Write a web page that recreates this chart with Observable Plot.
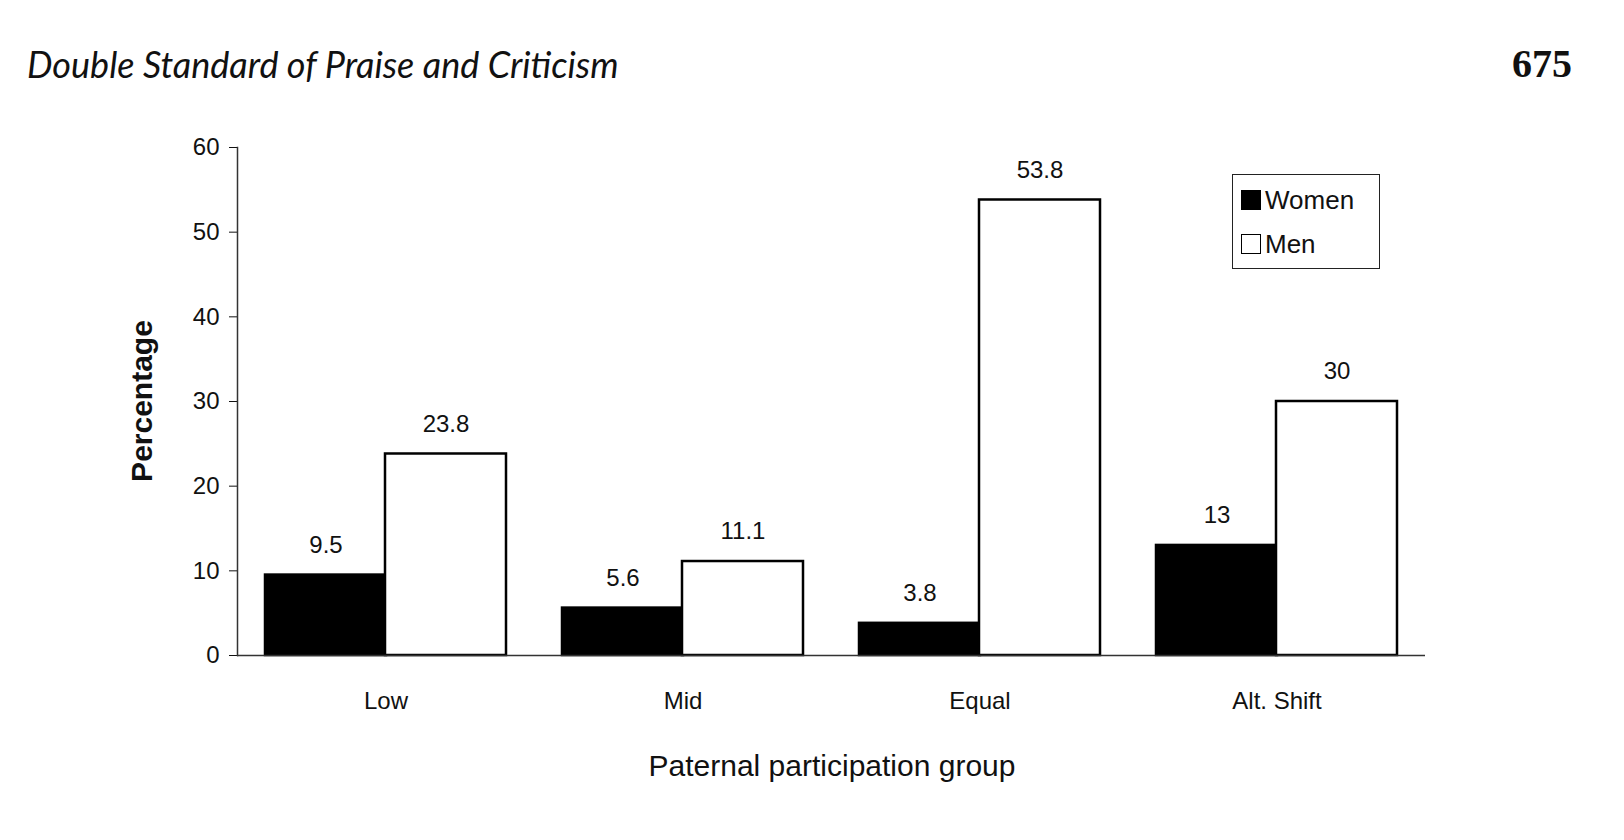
<!DOCTYPE html>
<html><head><meta charset="utf-8">
<script src="https://cdn.jsdelivr.net/npm/d3@7"></script>
<script src="https://cdn.jsdelivr.net/npm/@observablehq/plot@0.6"></script>
<style>
body{margin:0;background:#fff;}
#wrap{position:relative;width:1624px;height:840px;}
#title{position:absolute;left:27px;top:42px;font:italic 36px Lato,"Open Sans",sans-serif;color:#111;}
#page{position:absolute;left:1512px;top:40px;font:bold 40px "Liberation Serif",serif;color:#111;}
#legend{position:absolute;left:1232px;top:174px;width:146px;height:93px;border:1.5px solid #222;font:26px "Liberation Sans",Arial,sans-serif;color:#111;}
#legend div{display:flex;align-items:center;height:44px;padding-left:8px;}
#legend span.sw{display:inline-block;width:20px;height:20px;margin-right:4px;box-sizing:border-box;border:1.5px solid #000;}
svg{position:absolute;left:0;top:0;}
</style></head><body>
<div id="wrap">
<div id="chart"></div>
<div id="title">Double Standard of Praise and Criticism</div>
<div id="page">675</div>
<div id="legend"><div style="margin-top:3px"><span class="sw" style="background:#000"></span>Women</div><div><span class="sw" style="background:#fff"></span>Men</div></div>
</div>
<script>
const groups = ["Low","Mid","Equal","Alt. Shift"];
const series = ["Women","Men"];
const women = [9.5,5.6,3.8,13];
const men = [23.8,11.1,53.8,30];
const labelsW = ["9.5","5.6","3.8","13"];
const labelsM = ["23.8","11.1","53.8","30"];
const W = groups.map((g,i)=>({group:g,value:women[i],label:labelsW[i]}));
const M = groups.map((g,i)=>({group:g,value:men[i],label:labelsM[i]}));
const font = '"Liberation Sans", Arial, sans-serif';
const half = 120;
const chart = Plot.plot({
  width:1624, height:840,
  marginLeft:237, marginRight:199, marginTop:147, marginBottom:185,
  style:{fontFamily:font, fontSize:"24px", color:"#111", background:"transparent"},
  x:{domain:groups, paddingInner:0.19, paddingOuter:0.095, axis:null},
  y:{domain:[0,60], axis:null},
  marks:[
    Plot.barY(W,{x:"group",y:"value",fill:"#000",stroke:"#000",strokeWidth:2.5,insetRight:half}),
    Plot.barY(M,{x:"group",y:"value",fill:"#fff",stroke:"#000",strokeWidth:2.5,insetLeft:half}),
    Plot.text(W,{x:"group",y:"value",text:"label",dx:-half/2,dy:-30,fontSize:24,fill:"#111",style:"letter-spacing:2px"}),
    Plot.text(M,{x:"group",y:"value",text:"label",dx:half/2,dy:-30,fontSize:24,fill:"#111",style:"letter-spacing:2px"}),
    Plot.axisY({ticks:[0,10,20,30,40,50,60],tickSize:8,tickPadding:10,fontSize:24,label:null,style:"letter-spacing:2px"}),
    Plot.axisX({anchor:"bottom",tickSize:0,tickPadding:36,fontSize:24,label:null}),
    Plot.ruleY([0],{stroke:"#333",strokeWidth:1.5}),
    Plot.frame({anchor:"left",stroke:"#333",strokeWidth:1.5})
  ]
});
const svg = d3.select(chart);
svg.append("text").attr("x",832).attr("y",776).attr("text-anchor","middle")
  .style("font",`30px ${font}`).attr("fill","#111").text("Paternal participation group");
svg.append("text").attr("transform","translate(152,401) rotate(-90)").attr("text-anchor","middle")
  .style("font",`bold 30px ${font}`).attr("fill","#111").text("Percentage");
document.getElementById("chart").append(chart);
</script>
</body></html>
